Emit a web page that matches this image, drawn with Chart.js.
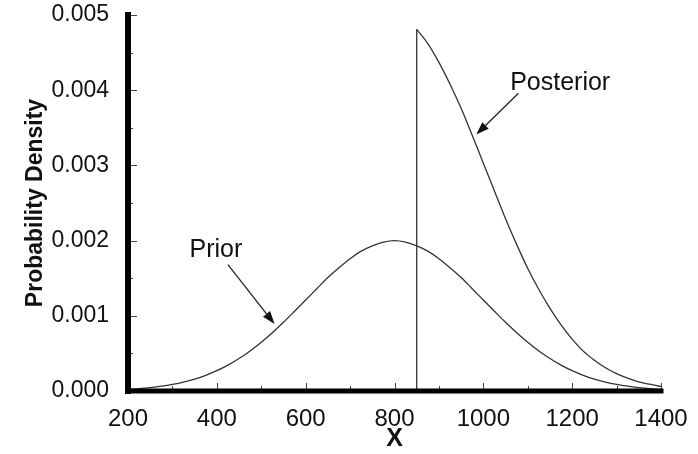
<!DOCTYPE html>
<html>
<head>
<meta charset="utf-8">
<script src="https://cdn.jsdelivr.net/npm/chart.js@4/dist/chart.umd.min.js"></script>
<style>
  html, body { margin: 0; padding: 0; background: #fff; }
  canvas { display: block; }
</style>
</head>
<body>
<canvas id="chart" width="698" height="454"></canvas>
<script>
// values
const priorX = [200, 225, 250, 275, 300, 325, 350, 375, 400, 425, 450, 475, 500, 525, 550, 575, 600, 625, 650, 675, 700, 725, 750, 775, 800,
  825, 850, 875, 900, 925, 950, 975, 1000, 1025, 1050, 1075, 1100, 1125, 1150, 1175, 1200, 1225, 1250, 1275, 1300, 1325, 1350, 1375, 1400];
const priorY = [0.000022, 0.000032, 0.000046, 0.000064, 0.000088, 0.000119, 0.000159, 0.000209, 0.000270, 0.000344, 0.000432, 0.000533, 0.000648,
  0.000775, 0.000913, 0.00106, 0.00121, 0.00136, 0.00151, 0.00164, 0.00176, 0.00186, 0.00193, 0.00198, 0.00200,
  0.00198, 0.00193, 0.00186, 0.00176, 0.00164, 0.00151, 0.00136, 0.00121, 0.00106, 0.000913, 0.000775, 0.000648, 0.000533,
  0.000432, 0.000344, 0.000270, 0.000209, 0.000159, 0.000119, 0.000088, 0.000064, 0.000046, 0.000032, 0.000022];

const posteriorX = [850, 875, 900, 925, 950, 975, 1000, 1025, 1050, 1075, 1100, 1125, 1150, 1175, 1200, 1225, 1250, 1275, 1300, 1325, 1350, 1375, 1400];
const posteriorY = [0.00481, 0.00462, 0.00437, 0.00408, 0.00376, 0.00340, 0.00303, 0.00266, 0.00229, 0.00195, 0.00163, 0.00135, 0.00110,
  0.00088, 0.00069, 0.00053, 0.00041, 0.00031, 0.00023, 0.00017, 0.00012, 0.00009, 0.00006];

// the posterior is cut off at x = 850
const cutX = [850, 850];
const cutY = [0, 0.00481];

const xTicks = [200, 400, 600, 800, 1000, 1200, 1400];
const xMinorTicks = [300, 500, 700, 900, 1100, 1300];
const yTicks = [0, 0.001, 0.002, 0.003, 0.004, 0.005];
const yMinorTicks = [0.0005, 0.0015, 0.0025, 0.0035, 0.0045];

// labels with arrows, in data units
const notes = [
  { text: 'Prior', at: [398, 0.00188], from: [425, 0.00168], to: [530, 0.00089] },
  { text: 'Posterior', at: [1173, 0.00409], from: [1079, 0.00396], to: [984, 0.00341] }
];

const FONT = "'Liberation Sans', Arial, sans-serif";
const LINE = '#333';

function pts(xs, ys) {
  return xs.map((x, i) => ({ x: x, y: ys[i] }));
}

// axes, inward ticks, annotations
const decorations = {
  id: 'decorations',
  afterDatasetsDraw(chart) {
    const ctx = chart.ctx;
    const xs = chart.scales.x, ys = chart.scales.y;
    const left = xs.getPixelForValue(200), right = xs.getPixelForValue(1400);
    const top = ys.getPixelForValue(0.005), bottom = ys.getPixelForValue(0);

    ctx.save();
    // tick marks point into the plot
    ctx.strokeStyle = '#444';
    ctx.lineWidth = 1;
    ctx.beginPath();
    xTicks.forEach(v => { const p = Math.round(xs.getPixelForValue(v)) + 0.5; ctx.moveTo(p, bottom); ctx.lineTo(p, bottom - 8); });
    xMinorTicks.forEach(v => { const p = Math.round(xs.getPixelForValue(v)) + 0.5; ctx.moveTo(p, bottom); ctx.lineTo(p, bottom - 5); });
    yTicks.forEach(v => { const p = Math.round(ys.getPixelForValue(v)) + 0.5; ctx.moveTo(left, p); ctx.lineTo(left + 9, p); });
    yMinorTicks.forEach(v => { const p = Math.round(ys.getPixelForValue(v)) + 0.5; ctx.moveTo(left, p); ctx.lineTo(left + 5, p); });
    ctx.stroke();

    // heavy axis lines
    ctx.strokeStyle = '#000';
    ctx.lineCap = 'square';
    ctx.lineWidth = 6;
    ctx.beginPath();
    ctx.moveTo(left, top);
    ctx.lineTo(left, bottom);
    ctx.stroke();
    ctx.lineWidth = 5;
    ctx.beginPath();
    ctx.moveTo(left, bottom);
    ctx.lineTo(right, bottom);
    ctx.stroke();

    // labels and arrows
    ctx.lineCap = 'butt';
    ctx.font = '25px ' + FONT;
    ctx.fillStyle = '#111';
    ctx.textAlign = 'center';
    ctx.textBaseline = 'middle';
    notes.forEach(n => {
      ctx.fillText(n.text, xs.getPixelForValue(n.at[0]), ys.getPixelForValue(n.at[1]));
      const x1 = xs.getPixelForValue(n.from[0]), y1 = ys.getPixelForValue(n.from[1]);
      const x2 = xs.getPixelForValue(n.to[0]), y2 = ys.getPixelForValue(n.to[1]);
      const a = Math.atan2(y2 - y1, x2 - x1);
      const len = 13, half = 4.5;
      const bx = x2 - len * Math.cos(a), by = y2 - len * Math.sin(a);
      ctx.strokeStyle = '#222';
      ctx.lineWidth = 1.3;
      ctx.beginPath();
      ctx.moveTo(x1, y1);
      ctx.lineTo(bx, by);
      ctx.stroke();
      ctx.beginPath();
      ctx.moveTo(x2, y2);
      ctx.lineTo(bx + half * Math.sin(a), by - half * Math.cos(a));
      ctx.lineTo(bx - half * Math.sin(a), by + half * Math.cos(a));
      ctx.closePath();
      ctx.fillStyle = '#111';
      ctx.fill();
    });
    ctx.restore();
  }
};

new Chart(document.getElementById('chart').getContext('2d'), {
  type: 'line',
  data: {
    datasets: [
      { label: 'Prior', data: pts(priorX, priorY), borderColor: LINE, borderWidth: 1.3, pointRadius: 0, cubicInterpolationMode: 'monotone', fill: false },
      { label: 'Posterior', data: pts(posteriorX, posteriorY), borderColor: LINE, borderWidth: 1.3, pointRadius: 0, cubicInterpolationMode: 'monotone', fill: false },
      { label: 'cut', data: pts(cutX, cutY), borderColor: LINE, borderWidth: 1.3, pointRadius: 0, tension: 0, fill: false }
    ]
  },
  options: {
    responsive: false,
    animation: false,
    devicePixelRatio: 1,
    layout: { padding: { top: 15, right: 37, left: 0, bottom: 0 } },
    plugins: { legend: { display: false }, tooltip: { enabled: false } },
    scales: {
      x: {
        type: 'linear',
        min: 200,
        max: 1400,
        afterFit: s => { s.height = 63; s.paddingLeft = 0; s.paddingRight = 0; },
        afterBuildTicks: s => { s.ticks = xTicks.map(v => ({ value: v })); },
        grid: { display: false },
        border: { display: false },
        ticks: { color: '#111', padding: 6, maxRotation: 0, autoSkip: false, font: { family: FONT, size: 24 }, callback: v => String(v) },
        title: { display: true, text: 'X', color: '#111', padding: { top: 0, bottom: 0 }, font: { family: FONT, size: 25, weight: 'bold' } }
      },
      y: {
        type: 'linear',
        min: 0,
        max: 0.005,
        afterFit: s => { s.width = 128; s.paddingTop = 0; s.paddingBottom = 0; },
        afterBuildTicks: s => { s.ticks = yTicks.map(v => ({ value: v })); },
        grid: { display: false },
        border: { display: false },
        ticks: { color: '#111', padding: 11, autoSkip: false, font: { family: FONT, size: 23 }, callback: v => v.toFixed(3) },
        title: { display: true, text: 'Probability Density', color: '#111', padding: { top: 22, bottom: 0 }, font: { family: FONT, size: 23, weight: 'bold' } }
      }
    }
  },
  plugins: [decorations]
});
</script>
</body>
</html>
